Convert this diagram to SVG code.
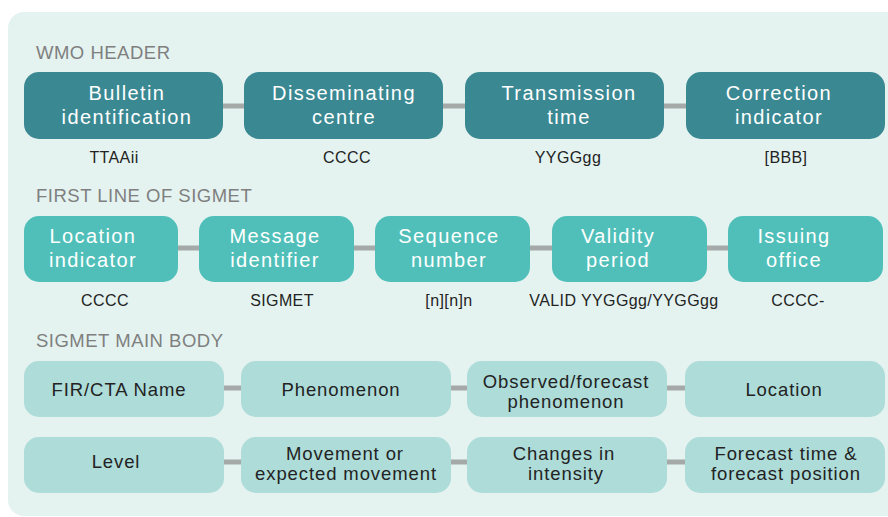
<svg xmlns="http://www.w3.org/2000/svg" width="888" height="517" viewBox="0 0 888 517">
<style>
.t{font-family:"Liberation Sans",Arial,sans-serif;text-anchor:middle}
.title{font-family:"Liberation Sans",Arial,sans-serif;font-size:18.5px;fill:#7f7f7f;letter-spacing:0.5px}
.w{fill:#ffffff;font-size:20px;letter-spacing:1.4px}
.d{fill:#232323;font-size:18.5px;letter-spacing:0.9px}
.lab{fill:#232323;font-size:16px;letter-spacing:0.4px}
.b1{fill:#3a8892}
.b2{fill:#50bfb9}
.b3{fill:#addcd9}
.c{stroke:#a5a9a8;stroke-width:5;fill:none}
</style>
<rect x="8" y="12" width="900" height="504" rx="16" fill="#e4f3f0"/>
<text class="title" x="36" y="59">WMO HEADER</text>
<text class="title" x="36" y="202">FIRST LINE OF SIGMET</text>
<text class="title" x="36" y="347">SIGMET MAIN BODY</text>
<g id="connectors">
<line class="c" x1="223" y1="106" x2="244" y2="106"/>
<line class="c" x1="443" y1="106" x2="465" y2="106"/>
<line class="c" x1="664" y1="106" x2="686" y2="106"/>
<line class="c" x1="178" y1="248" x2="199" y2="248"/>
<line class="c" x1="354" y1="248" x2="375" y2="248"/>
<line class="c" x1="530" y1="248" x2="552" y2="248"/>
<line class="c" x1="707" y1="248" x2="728" y2="248"/>
<line class="c" x1="224" y1="388" x2="241" y2="388"/>
<line class="c" x1="451" y1="388" x2="467" y2="388"/>
<line class="c" x1="667" y1="388" x2="685" y2="388"/>
<line class="c" x1="224" y1="462" x2="241" y2="462"/>
<line class="c" x1="451" y1="462" x2="467" y2="462"/>
<line class="c" x1="667" y1="462" x2="685" y2="462"/>
</g>
<g id="bulletin">
<rect class="b1" x="24" y="72" width="199" height="67" rx="15"/>
<text class="t w" x="127" y="100">Bulletin</text>
<text class="t w" x="127" y="124">identification</text>
<text class="t lab" x="114" y="163">TTAAii</text>
</g>
<g id="disseminating">
<rect class="b1" x="244" y="72" width="199" height="67" rx="15"/>
<text class="t w" x="344" y="100">Disseminating</text>
<text class="t w" x="344" y="124">centre</text>
<text class="t lab" x="347" y="163">CCCC</text>
</g>
<g id="transmission">
<rect class="b1" x="465" y="72" width="199" height="67" rx="15"/>
<text class="t w" x="569" y="100">Transmission</text>
<text class="t w" x="569" y="124">time</text>
<text class="t lab" x="568" y="163">YYGGgg</text>
</g>
<g id="correction">
<rect class="b1" x="686" y="72" width="199" height="67" rx="15"/>
<text class="t w" x="779" y="100">Correction</text>
<text class="t w" x="779" y="124">indicator</text>
<text class="t lab" x="786" y="163">[BBB]</text>
</g>
<g id="location-indicator">
<rect class="b2" x="24" y="216" width="154" height="66" rx="15"/>
<text class="t w" x="93" y="243">Location</text>
<text class="t w" x="93" y="267">indicator</text>
<text class="t lab" x="105" y="306">CCCC</text>
</g>
<g id="message-identifier">
<rect class="b2" x="199" y="216" width="155" height="66" rx="15"/>
<text class="t w" x="275" y="243">Message</text>
<text class="t w" x="275" y="267">identifier</text>
<text class="t lab" x="282" y="306">SIGMET</text>
</g>
<g id="sequence-number">
<rect class="b2" x="375" y="216" width="155" height="66" rx="15"/>
<text class="t w" x="449" y="243">Sequence</text>
<text class="t w" x="449" y="267">number</text>
<text class="t lab" x="449" y="306">[n][n]n</text>
</g>
<g id="validity-period">
<rect class="b2" x="552" y="216" width="155" height="66" rx="15"/>
<text class="t w" x="618" y="243">Validity</text>
<text class="t w" x="618" y="267">period</text>
<text class="t lab" x="624" y="306">VALID YYGGgg/YYGGgg</text>
</g>
<g id="issuing-office">
<rect class="b2" x="728" y="216" width="155" height="66" rx="15"/>
<text class="t w" x="794" y="243">Issuing</text>
<text class="t w" x="794" y="267">office</text>
<text class="t lab" x="798" y="306">CCCC-</text>
</g>
<g id="fir-cta-name">
<rect class="b3" x="24" y="361" width="200" height="56" rx="15"/>
<text class="t d" x="119" y="396">FIR/CTA Name</text>
</g>
<g id="phenomenon">
<rect class="b3" x="241" y="361" width="210" height="56" rx="15"/>
<text class="t d" x="341" y="396">Phenomenon</text>
</g>
<g id="observed-forecast">
<rect class="b3" x="467" y="361" width="200" height="56" rx="15"/>
<text class="t d" x="566" y="388">Observed/forecast</text>
<text class="t d" x="566" y="408">phenomenon</text>
</g>
<g id="location">
<rect class="b3" x="685" y="361" width="200" height="56" rx="15"/>
<text class="t d" x="784" y="396">Location</text>
</g>
<g id="level">
<rect class="b3" x="24" y="437" width="200" height="56" rx="15"/>
<text class="t d" x="116" y="468">Level</text>
</g>
<g id="movement">
<rect class="b3" x="241" y="437" width="210" height="56" rx="15"/>
<text class="t d" x="345" y="460">Movement or</text>
<text class="t d" x="346" y="480">expected movement</text>
</g>
<g id="changes">
<rect class="b3" x="467" y="437" width="200" height="56" rx="15"/>
<text class="t d" x="564" y="460">Changes in</text>
<text class="t d" x="566" y="480">intensity</text>
</g>
<g id="forecast-time">
<rect class="b3" x="685" y="437" width="200" height="56" rx="15"/>
<text class="t d" x="786" y="460">Forecast time &amp;</text>
<text class="t d" x="786" y="480">forecast position</text>
</g>
</svg>
